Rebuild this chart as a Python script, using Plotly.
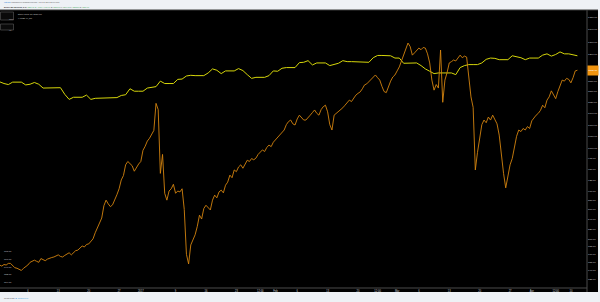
import numpy as np
import pandas as pd
import plotly.graph_objects as go

# ---------------- data ----------------
btc_start = "2016-11-28 12:00"   # 12-hour samples of the BTC close
btc_close = [
    756, 752, 750, 748, 751, 750, 753, 753, 748, 745, 744, 742, 740, 744, 747, 750, 755, 757, 759, 757,
    755, 762, 760, 758, 761, 763, 764, 765, 767, 769, 766, 765, 768, 771, 773, 769, 774, 777, 778, 782,
    786, 784, 789, 790, 795, 800, 812, 822, 835, 842, 868, 880, 872, 866, 870, 880, 892, 905, 925, 935,
    960, 968, 962, 958, 945, 955, 962, 968, 995, 1005, 1018, 1025, 1035, 1045, 1117, 1100, 940, 985, 895, 880,
    900, 905, 915, 895, 900, 898, 905, 860, 770, 752, 788, 800, 808, 825, 848, 840, 862, 869, 865, 859,
    880, 891, 885, 898, 902, 896, 913, 920, 936, 930, 948, 944, 955, 960, 952, 962, 971, 968, 975, 972,
    976, 985, 990, 996, 992, 1002, 1008, 1004, 1015, 1021, 1028, 1033, 1040, 1046, 1060, 1068, 1072, 1062, 1059, 1075,
    1085, 1078, 1072, 1072, 1080, 1085, 1092, 1099, 1090, 1085, 1100, 1108, 1112, 1094, 1060, 1046, 1085, 1090, 1095, 1099,
    1105, 1112, 1118, 1126, 1122, 1132, 1140, 1145, 1149, 1158, 1169, 1172, 1178, 1183, 1190, 1198, 1190, 1183, 1165, 1150,
    1147, 1165, 1180, 1192, 1198, 1210, 1222, 1240, 1258, 1274, 1296, 1285, 1258, 1265, 1272, 1280, 1275, 1282, 1280, 1262,
    1234, 1183, 1154, 1170, 1160, 1274, 1120, 1183, 1205, 1234, 1238, 1243, 1240, 1250, 1258, 1250, 1255, 1252, 1200, 1135,
    1106, 948, 990, 1030, 1060, 1072, 1065, 1080, 1072, 1085, 1075, 1062, 1033, 980, 940, 907, 930, 960, 975, 1000,
    1030, 1046, 1042, 1050, 1046, 1055, 1050, 1070, 1078, 1085, 1090, 1098, 1112, 1105, 1126, 1135, 1152, 1140, 1130, 1150,
    1169, 1183, 1180, 1188, 1185, 1175, 1190, 1210, 1212,
]

gold_start = "2016-11-28 12:00"  # daily samples of XAUUSD
gold_close = [
    1180, 1178, 1173, 1170, 1177, 1177, 1177,
    1169, 1171, 1176, 1171, 1160, 1160, 1160,
    1159, 1161, 1142, 1128, 1134, 1134, 1134,
    1140, 1128, 1131, 1131, 1133, 1133, 1133,
    1133, 1139, 1141, 1158, 1151, 1151, 1151,
    1160, 1161, 1164, 1180, 1173, 1173, 1173,
    1185, 1186, 1195, 1197, 1196, 1196, 1196,
    1204, 1216, 1212, 1202, 1210, 1210, 1210,
    1217, 1211, 1199, 1188, 1191, 1191, 1191,
    1196, 1210, 1209, 1218, 1220, 1220, 1220,
    1235, 1236, 1241, 1228, 1234, 1234, 1234,
    1226, 1229, 1233, 1241, 1238, 1238, 1238,
    1236, 1236, 1236, 1250, 1257, 1257, 1257,
    1256, 1249, 1249, 1233, 1234, 1234, 1234,
    1226, 1216, 1209, 1202, 1204, 1204, 1204,
    1204, 1199, 1220, 1226, 1229, 1229, 1229,
    1234, 1245, 1249, 1248, 1244, 1244, 1244,
    1256, 1253, 1250, 1244, 1249, 1249, 1249,
    1258, 1262, 1255, 1260, 1268, 1262, 1262,
    1258, 1256,
]

price_ticks = [1380, 1340, 1300, 1260, 1220, 1180, 1150, 1120, 1090, 1060, 1030, 1000, 975, 950,
               925, 900, 880, 860, 840, 820, 800, 785, 770, 755, 740, 725]
left_ticks = [775, 760, 746, 732, 719]

date_ticks = ["2016-12-06", "2016-12-13", "2016-12-20", "2016-12-27", "2017-01-01", "2017-01-09",
              "2017-01-16", "2017-01-23", "2017-01-28 12:00", "2017-02-01", "2017-02-06", "2017-02-13",
              "2017-02-20", "2017-02-24 12:00", "2017-03-01", "2017-03-06", "2017-03-13", "2017-03-20",
              "2017-03-27", "2017-04-01", "2017-04-06 12:00", "2017-04-10"]
date_labels = ["6", "13", "20", "27", "2017", "9", "16", "23", "12:00", "Feb", "6", "13", "20", "12:00",
               "Mar", "6", "13", "20", "27", "Apr", "12:00", "10"]

x_range = ["2016-11-29 14:00", "2017-04-13 17:00"]
y_range_vals = [708.7, 1406.0]

# ---------------- figure ----------------
btc_t = pd.date_range(btc_start, periods=len(btc_close), freq="12h")
gold_t = pd.date_range(gold_start, periods=len(gold_close), freq="D")

ORANGE = "#d4830f"
YELLOW = "#d6d60a"
BG = "#eef1f5"
TXT = "#c9cbd1"
FONT = "Liberation Sans, Arial, sans-serif"

fig = go.Figure()
fig.add_trace(go.Scatter(x=gold_t, y=gold_close, mode="lines", line=dict(color=YELLOW, width=1),
                         hoverinfo="skip", showlegend=False))
fig.add_trace(go.Scatter(x=btc_t, y=btc_close, mode="lines", line=dict(color=ORANGE, width=0.9),
                         hoverinfo="skip", showlegend=False))

W, H = 600, 302
ml, mr, mt, mb = 0, 13, 10, 14
pw, ph = W - ml - mr, H - mt - mb

fig.update_layout(
    width=W, height=H,
    margin=dict(l=ml, r=mr, t=mt, b=mb, pad=0),
    paper_bgcolor=BG, plot_bgcolor="#000000",
    font=dict(family=FONT, color=TXT, size=3),
    xaxis=dict(type="date", range=x_range, showgrid=False, zeroline=False, showline=False,
               tickmode="array", tickvals=date_ticks, ticktext=date_labels,
               tickfont=dict(size=2.6, color=TXT), ticks="", ticklen=0),
    yaxis=dict(type="log", side="right", range=[np.log10(y_range_vals[0]), np.log10(y_range_vals[1])],
               showgrid=False, zeroline=False, showline=False,
               tickmode="array", tickvals=price_ticks, ticktext=[f"{v:.2f}" for v in price_ticks],
               tickfont=dict(size=2.5, color=TXT), ticks="", ticklen=0),
)

# black chart band incl. axis strips
fig.add_shape(type="rect", xref="paper", yref="paper", x0=0, x1=(598 - ml) / pw, y0=-(292 - (H - mb)) / ph, y1=1,
              fillcolor="#000000", line_width=0, layer="below")
# frame lines
fig.add_shape(type="line", xref="paper", yref="paper", x0=1, x1=1, y0=-(292 - (H - mb)) / ph, y1=1,
              line=dict(color="#4a4a4a", width=1))
fig.add_shape(type="line", xref="paper", yref="paper", x0=0, x1=1, y0=0, y1=0,
              line=dict(color="#4a4a4a", width=1))
fig.add_shape(type="line", xref="paper", yref="paper", x0=0, x1=(598 - ml) / pw, y0=1, y1=1,
              line=dict(color="#3a3a3a", width=1))

def px2paper_y(py):
    return 1 - (py - mt) / ph

# small boxes at top-left (legend toggles)
for (y0, y1) in [(12, 20), (24, 30)]:
    fig.add_shape(type="rect", xref="paper", yref="paper", x0=0.5 / pw, x1=13.5 / pw,
                  y0=px2paper_y(y1), y1=px2paper_y(y0), line=dict(color="#5a5a5a", width=0.6),
                  fillcolor="#0a0a0a")
fig.add_annotation(xref="paper", yref="paper", x=7 / pw, y=px2paper_y(16), showarrow=False,
                   text="Close", font=dict(size=1.7, color="#bbbbbb"))
fig.add_annotation(xref="paper", yref="paper", x=7 / pw, y=px2paper_y(27), showarrow=False,
                   text="Vol", font=dict(size=1.7, color="#bbbbbb"))

# left-side scale labels (bottom)
for v in left_ticks:
    fig.add_annotation(xref="paper", x=2 / pw, xanchor="left", yref="y", y=np.log10(v), showarrow=False,
                       text=f"{v:.2f}", font=dict(size=2.4, color=TXT))

# last-price tag
fig.add_annotation(xref="paper", x=1.0, xanchor="left", yref="y", y=np.log10(btc_close[-1]),
                   text=f"{btc_close[-1]:.2f}", showarrow=False, bgcolor="#f0940f",
                   font=dict(size=2.5, color="#ffffff"), width=10, height=9, borderpad=0)

# header
fig.add_annotation(xref="paper", yref="paper", x=0.003, y=px2paper_y(2.5), xanchor="left", yanchor="middle",
                   showarrow=False, align="left",
                   text="<span style='color:#2a7fd4'>cdtrader</span> published on TradingView.com, April 13, 2017 20:06 UTC",
                   font=dict(size=1.9, color="#555555"))
fig.add_annotation(xref="paper", yref="paper", x=0.003, y=px2paper_y(7), xanchor="left", yanchor="middle",
                   showarrow=False, align="left",
                   text="<b>BITSTAMP:BTCUSD, 240:</b> <span style='color:#3aa655'>1210.00 ▲ +6.50 (+0.54%)</span> "
                        "O: <span style='color:#3aa655'>1205.00</span> H: <span style='color:#3aa655'>1214.11</span> "
                        "L: <span style='color:#3aa655'>1203.56</span> C: <span style='color:#3aa655'>1210.00</span>",
                   font=dict(size=1.9, color="#333333"))
# legend inside chart
fig.add_annotation(xref="paper", yref="paper", x=16 / pw, y=px2paper_y(14), xanchor="left", yanchor="middle",
                   showarrow=False, text="Bitcoin / Dollar, 240, BITSTAMP", font=dict(size=1.7, color="#d0d0d0"))
fig.add_annotation(xref="paper", yref="paper", x=16 / pw, y=px2paper_y(18), xanchor="left", yanchor="middle",
                   showarrow=False, text="XAUUSD, FX_IDC", font=dict(size=1.7, color="#d0d0d0"))
# footer
fig.add_annotation(xref="paper", yref="paper", x=0.003, y=px2paper_y(298), xanchor="left", yanchor="middle",
                   showarrow=False, align="left",
                   text="Created with <span style='color:#4a9fe0'>☁ TradingView</span>",
                   font=dict(size=1.9, color="#555555"))

fig.write_html("out.html")
